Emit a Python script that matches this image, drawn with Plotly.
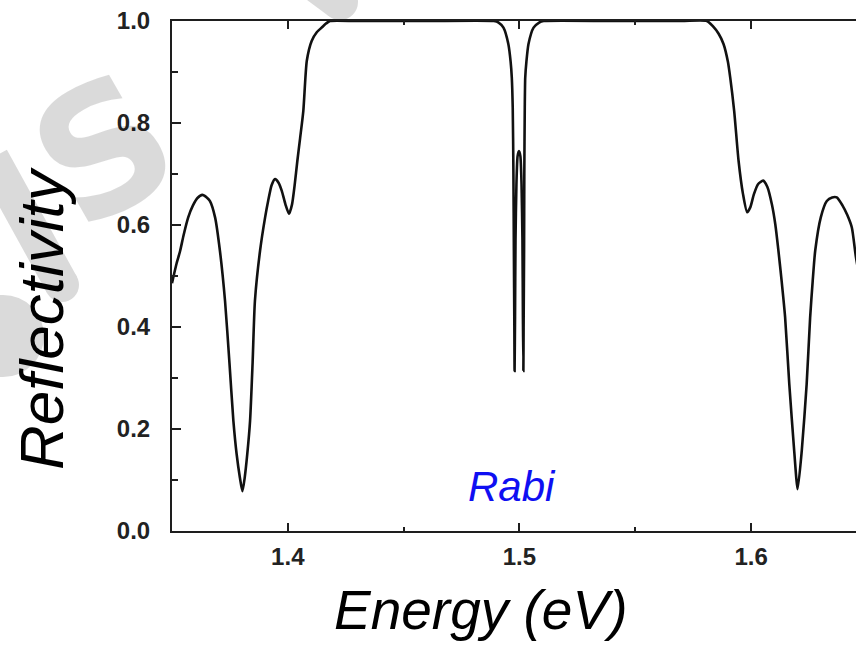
import plotly.graph_objects as go

# Reflectivity spectrum of a microcavity: stop band with two Rabi-split polariton dips
energy_ev = [
    1.3500, 1.3520, 1.3535, 1.3550, 1.3570, 1.3590, 1.3610, 1.3631, 1.3650, 1.3664,
    1.3686, 1.3707, 1.3729, 1.3748, 1.3765, 1.3779, 1.3793, 1.3804, 1.3814, 1.3825,
    1.3837, 1.3848, 1.3858, 1.3880, 1.3902, 1.3915, 1.3930, 1.3945, 1.3960, 1.3974,
    1.3990, 1.4005, 1.4018, 1.4030, 1.4041, 1.4053, 1.4067, 1.4082, 1.4103, 1.4125,
    1.4146, 1.4165, 1.4182, 1.4300, 1.4600, 1.4890, 1.4910, 1.4931, 1.4952, 1.4962,
    1.4967, 1.4971, 1.4974, 1.4976, 1.4978, 1.4979, 1.4981, 1.4983, 1.4987, 1.4992,
    1.4998, 1.5004, 1.5009, 1.5013, 1.5015, 1.5017, 1.5018, 1.5020, 1.5021, 1.5023,
    1.5025, 1.5030, 1.5039, 1.5061, 1.5085, 1.5105, 1.5400, 1.5700, 1.5809, 1.5835,
    1.5860, 1.5881, 1.5900, 1.5910, 1.5927, 1.5946, 1.5965, 1.5983, 1.5997, 1.6012,
    1.6030, 1.6052, 1.6070, 1.6090, 1.6105, 1.6118, 1.6132, 1.6147, 1.6165, 1.6186,
    1.6201, 1.6219, 1.6240, 1.6255, 1.6266, 1.6277, 1.6301, 1.6327, 1.6350, 1.6370,
    1.6395, 1.6415, 1.6435, 1.6453, 1.6480,
]
reflectivity = [
    0.486, 0.525, 0.549, 0.580, 0.615, 0.638, 0.653, 0.659, 0.654, 0.647,
    0.615, 0.549, 0.451, 0.330, 0.216, 0.151, 0.105, 0.078, 0.105, 0.151,
    0.216, 0.330, 0.451, 0.549, 0.615, 0.647, 0.678, 0.690, 0.683, 0.667,
    0.640, 0.622, 0.640, 0.680, 0.725, 0.770, 0.824, 0.922, 0.961, 0.978,
    0.987, 0.995, 1.000, 1.000, 1.000, 1.000, 0.997, 0.987, 0.955, 0.920,
    0.889, 0.830, 0.700, 0.550, 0.400, 0.314, 0.420, 0.570, 0.680, 0.735,
    0.745, 0.735, 0.680, 0.570, 0.420, 0.314, 0.400, 0.550, 0.700, 0.830,
    0.889, 0.920, 0.955, 0.987, 0.997, 1.000, 1.000, 1.000, 1.000, 0.990,
    0.975, 0.955, 0.920, 0.889, 0.824, 0.726, 0.661, 0.625, 0.635, 0.660,
    0.680, 0.687, 0.675, 0.640, 0.600, 0.550, 0.490, 0.419, 0.288, 0.158,
    0.082, 0.158, 0.288, 0.419, 0.490, 0.550, 0.615, 0.647, 0.654, 0.654,
    0.638, 0.620, 0.595, 0.536, 0.470,
]

x_ticks = [1.4, 1.5, 1.6]
x_tick_labels = ["1.4", "1.5", "1.6"]
y_ticks = [0.0, 0.2, 0.4, 0.6, 0.8, 1.0]
y_tick_labels = ["0.0", "0.2", "0.4", "0.6", "0.8", "1.0"]

W, H = 856, 648
L, R, T, B = 172, 0, 21, 117
PW, PH = W - L - R, H - T - B


def px(xp):
    return (xp - L) / PW


def py(yp):
    return (H - B - yp) / PH


axis_color = "#1e1e1e"
tick_font = dict(family="Liberation Sans, Arial, sans-serif", size=24,
                 color="#222222", weight="bold")
title_font = "Liberation Sans, Arial, sans-serif"
wm_color = "#dadada"

fig = go.Figure()
fig.add_trace(go.Scatter(
    x=energy_ev, y=reflectivity, mode="lines",
    line=dict(color="#111111", width=2.6, shape="spline", smoothing=0.6),
    hoverinfo="skip", showlegend=False,
))

fig.update_xaxes(
    range=[1.35, 1.6453], tickvals=x_ticks, ticktext=x_tick_labels,
    ticks="inside", ticklen=8, tickwidth=2, tickcolor=axis_color,
    minor=dict(dtick=0.05, tick0=1.35, ticks="inside", ticklen=4,
               tickwidth=1.5, tickcolor=axis_color),
    showline=True, linewidth=2, linecolor=axis_color, mirror="allticks",
    showgrid=False, zeroline=False, tickfont=tick_font, ticklabelstandoff=3,
)
fig.update_yaxes(
    range=[0, 1], tickvals=y_ticks, ticktext=y_tick_labels,
    ticks="inside", ticklen=9, tickwidth=2, tickcolor=axis_color,
    minor=dict(dtick=0.1, tick0=0, ticks="inside", ticklen=6,
               tickwidth=1.5, tickcolor=axis_color),
    showline=True, linewidth=2, linecolor=axis_color, mirror=False,
    showgrid=False, zeroline=False, tickfont=tick_font, ticklabelstandoff=15,
)

# faint watermark strokes drawn underneath everything else
shapes = [
    dict(type="line", x0=px(-8), y0=py(158), x1=px(62), y1=py(285),
         line=dict(color=wm_color, width=34)),
    dict(type="circle", x0=px(45), y0=py(268), x1=px(79), y1=py(302),
         fillcolor=wm_color, line=dict(width=0)),
    dict(type="circle", x0=px(-38), y0=py(295), x1=px(44), y1=py(377),
         fillcolor=wm_color, line=dict(width=0)),
    dict(type="line", x0=px(290), y0=py(-35), x1=px(340), y1=py(2),
         line=dict(color=wm_color, width=36)),
    dict(type="circle", x0=px(322), y0=py(-16), x1=px(358), y1=py(20),
         fillcolor=wm_color, line=dict(width=0)),
]
for s in shapes:
    s.update(xref="paper", yref="paper", layer="below")

annotations = [
    dict(text="<b>S</b>", x=px(104), y=py(150), textangle=-30,
         font=dict(family="DejaVu Sans", size=175, color="rgba(0,0,0,0.145)")),
    # axis titles
    dict(text="<i>Energy (eV)</i>", x=px(480), y=py(610),
         font=dict(family=title_font, size=55, color="#000000")),
    dict(text="<i>Reflectivity</i>", x=px(42), y=py(318), textangle=-90,
         font=dict(family=title_font, size=62, color="#000000")),
    # label for the split central dips
    dict(text="<i>Rabi</i>", x=px(512), y=py(486),
         font=dict(family=title_font, size=42, color="#0f0ff2")),
]
for a in annotations:
    a.update(xref="paper", yref="paper", showarrow=False,
             xanchor="center", yanchor="middle")

fig.update_layout(
    width=W, height=H, margin=dict(l=L, r=R, t=T, b=B),
    paper_bgcolor="white", plot_bgcolor="rgba(0,0,0,0)",
    shapes=shapes, annotations=annotations,
)

fig.write_html("out.html")
